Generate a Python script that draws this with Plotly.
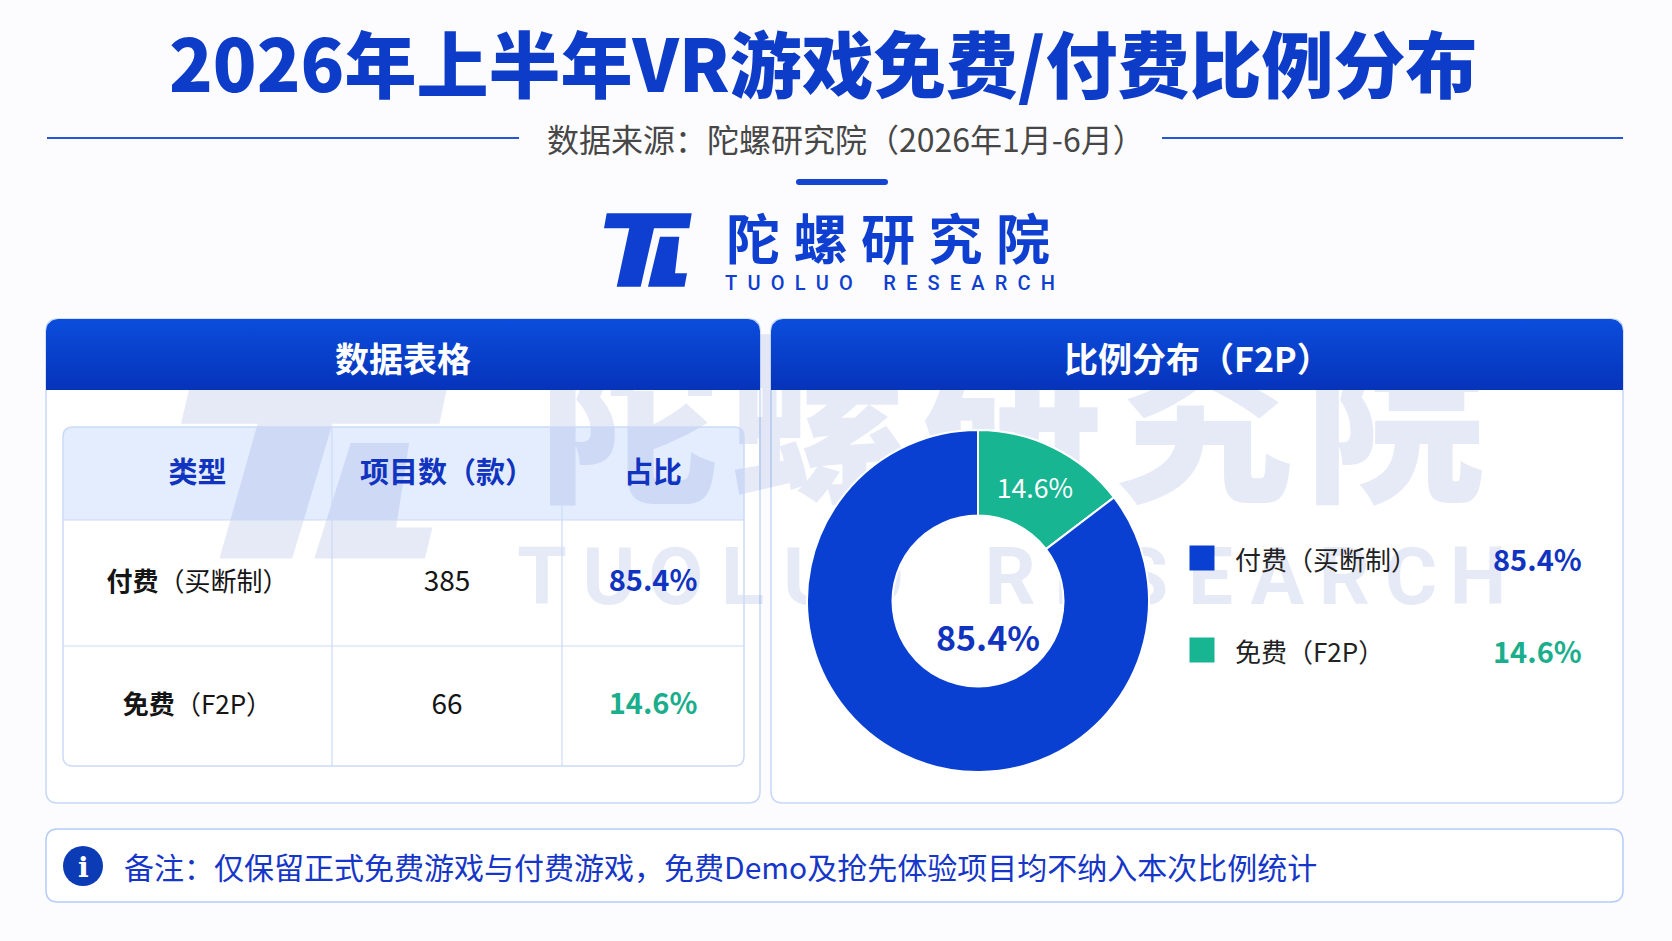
import math
import plotly.graph_objects as go

W, H = 1672, 941
FONT = "Noto Sans CJK SC"

# data
TITLE = "2026年上半年VR游戏免费/付费比例分布"
SOURCE = "数据来源：陀螺研究院（2026年1月-6月）"
NOTE = "备注：仅保留正式免费游戏与付费游戏，免费Demo及抢先体验项目均不纳入本次比例统计"
BRAND = "陀螺研究院"
BRAND_EN = "TUOLUO RESEARCH"
PANEL_TITLES = ["数据表格", "比例分布（F2P）"]
COLUMNS = ["类型", "项目数（款）", "占比"]
TYPES = ["付费", "免费"]
TYPE_DETAIL = ["（买断制）", "（F2P）"]
COUNTS = [385, 66]
SHARES = [85.4, 14.6]

# styles
TITLE_BLUE = "#0D3CC8"
DARK_BLUE = "#1034C0"
SLICE_COLORS = ["#0940D2", "#17B592"]
TEXT_COLORS = ["#1034C0", "#1AAE8C"]
BORDER = "#C6D7F7"
GRID = "#CCDAF6"
WATERMARK = "rgba(30,65,175,0.11)"
LOGO_BLUE = "#0E3FD0"
BG = "#FCFCFE"

# layout (pixels)
LEFT_PANEL = (46, 319, 760, 803)
RIGHT_PANEL = (771, 319, 1623, 803)
HEAD_H = 71
TABLE_X, TABLE_Y = 63, 427
COL_W = [269, 230, 182]
HEADER_H = 93
ROW_H = [126, 120]
CX, CY, R = 978, 601, 171
LEG_X, LEG_Y, LEG_DY = 1202, 558, 92
NOTE_BOX = (46, 829, 1623, 902)

shapes = []
annotations = []


def rounded_path(x0, y0, x1, y1, r, top_only=False):
    rb = 0 if top_only else r
    return (f"M{x0 + r},{y0} L{x1 - r},{y0} Q{x1},{y0} {x1},{y0 + r} "
            f"L{x1},{y1 - rb} Q{x1},{y1} {x1 - rb},{y1} L{x0 + rb},{y1} "
            f"Q{x0},{y1} {x0},{y1 - rb} L{x0},{y0 + r} Q{x0},{y0} {x0 + r},{y0} Z")


def add_text(x, y, text, size, color, weight=400, xanchor="center", family=FONT):
    annotations.append(dict(x=x, y=y, xref="x", yref="y", text=text, showarrow=False,
                            xanchor=xanchor, yanchor="middle",
                            font=dict(family=family, size=size, color=color, weight=weight)))


def label_shape(x, y, text, size, color, weight, layer, family=FONT):
    # text carried by an invisible shape, so it can sit under the donut
    shapes.append(dict(type="rect", xref="x", yref="y", x0=x - 1, x1=x + 1, y0=y - 1, y1=y + 1,
                       line=dict(width=0), fillcolor="rgba(0,0,0,0)", layer=layer,
                       label=dict(text=text, textposition="middle center",
                                  font=dict(family=family, size=size, color=color, weight=weight))))


def watermark_row(text, x_first, x_last, y, size, weight, family=FONT):
    step = (x_last - x_first) / (len(text) - 1)
    for k, ch in enumerate(text):
        if ch != " ":
            label_shape(x_first + k * step, y, ch, size, WATERMARK, weight, "below", family)


# TL mark outline, in logo pixels
TL_T = [(606.7, 213.3), (691.7, 213.3), (689.3, 228.3), (654, 228.3), (640.7, 286.7),
        (616.7, 286.7), (629.3, 228.3), (604, 228.3)]
TL_L = [(660, 236.7), (679.3, 236.7), (675, 273.3), (687, 273.3), (684.5, 286.7), (648, 286.7)]


def tl_paths(sx, sy, ox, oy, color, layer):
    for pts in (TL_T, TL_L):
        d = "M" + " L".join(f"{ox + (px - 604) * sx},{oy + (py - 213.3) * sy}" for px, py in pts) + " Z"
        shapes.append(dict(type="path", xref="x", yref="y", path=d, fillcolor=color,
                           line=dict(width=0), layer=layer))


# panel bodies
for x0, y0, x1, y1 in (LEFT_PANEL, RIGHT_PANEL):
    shapes.append(dict(type="path", xref="x", yref="y", path=rounded_path(x0, y0, x1, y1, 12),
                       fillcolor="white", line=dict(color=BORDER, width=1.5), layer="below"))

# table header fill
tx1 = TABLE_X + sum(COL_W)
ty1 = TABLE_Y + HEADER_H + sum(ROW_H)
shapes.append(dict(type="path", xref="x", yref="y",
                   path=rounded_path(TABLE_X, TABLE_Y, tx1, TABLE_Y + HEADER_H, 10, top_only=True),
                   fillcolor="#E4EDFE", line=dict(width=0), layer="below"))

# watermark
tl_paths(3.03, 2.31, 181, 389, WATERMARK, "below")
watermark_row(BRAND, 629, 1395, 438, 180, 900)
watermark_row(BRAND_EN, 542, 1478, 571, 80, 700, family="Roboto")

# table grid
shapes.append(dict(type="path", xref="x", yref="y", path=rounded_path(TABLE_X, TABLE_Y, tx1, ty1, 10),
                   fillcolor="rgba(0,0,0,0)", line=dict(color=GRID, width=1.5), layer="below"))
y = TABLE_Y + HEADER_H
for h in [0] + ROW_H[:-1]:
    y += h
    shapes.append(dict(type="line", xref="x", yref="y", x0=TABLE_X, x1=tx1, y0=y, y1=y,
                       line=dict(color=GRID, width=1.2), layer="below"))
x = TABLE_X
for w in COL_W[:-1]:
    x += w
    shapes.append(dict(type="line", xref="x", yref="y", x0=x, x1=x, y0=TABLE_Y, y1=ty1,
                       line=dict(color=GRID, width=1.2), layer="below"))

fig = go.Figure()

# panel headers with a vertical gradient
for (x0, y0, x1, y1), title in zip((LEFT_PANEL, RIGHT_PANEL), PANEL_TITLES):
    r = 12
    hx, hy = [], []
    for k in range(9):
        t = k / 8 * math.pi / 2
        hx.append(x0 + r - r * math.cos(t))
        hy.append(y0 + r - r * math.sin(t))
    for k in range(9):
        t = math.pi / 2 - k / 8 * math.pi / 2
        hx.append(x1 - r + r * math.cos(t))
        hy.append(y0 + r - r * math.sin(t))
    hx += [x1, x0]
    hy += [y0 + HEAD_H, y0 + HEAD_H]
    fig.add_trace(go.Scatter(x=hx, y=hy, mode="lines", fill="toself", line=dict(width=0),
                             fillgradient=dict(type="vertical", start=y0, stop=y0 + HEAD_H,
                                               colorscale=[[0, "#0B4DDC"], [1, "#0633BA"]]),
                             hoverinfo="skip", showlegend=False))
    add_text((x0 + x1) / 2, y0 + 38, title, 34, "white", 700)

# table cells
col_centers = []
x = TABLE_X
for w in COL_W:
    col_centers.append(x + w / 2)
    x += w
cell_x, cell_y, cell_text, cell_color, cell_size = [], [], [], [], []
for j, name in enumerate(COLUMNS):
    cell_x.append(col_centers[j])
    cell_y.append(TABLE_Y + HEADER_H / 2 + 2)
    cell_text.append(f"<b>{name}</b>")
    cell_color.append(DARK_BLUE)
    cell_size.append(29)
y = TABLE_Y + HEADER_H
for i in range(len(TYPES)):
    yc = y + ROW_H[i] / 2 + 1
    y += ROW_H[i]
    row = [f"<b>{TYPES[i]}</b>{TYPE_DETAIL[i]}", f"{COUNTS[i]}", f"<b>{SHARES[i]:.1f}%</b>"]
    colors = ["#151515", "#151515", TEXT_COLORS[i]]
    sizes = [26, 28, 29]
    for j in range(3):
        cell_x.append(col_centers[j])
        cell_y.append(yc)
        cell_text.append(row[j])
        cell_color.append(colors[j])
        cell_size.append(sizes[j])
fig.add_trace(go.Scatter(x=cell_x, y=cell_y, text=cell_text, mode="text", textposition="middle center",
                         textfont=dict(family=FONT, size=cell_size, color=cell_color),
                         hoverinfo="skip", showlegend=False))

# donut: free slice runs clockwise from 12 o'clock, paid fills the rest
labels = [t + d for t, d in zip(TYPES, TYPE_DETAIL)]
fig.add_trace(go.Pie(labels=labels[::-1], values=COUNTS[::-1], sort=False, direction="clockwise",
                     rotation=0, hole=0.5,
                     marker=dict(colors=SLICE_COLORS[::-1], line=dict(color="white", width=2)),
                     texttemplate="%{percent:.1%}", textposition=["inside", "none"],
                     insidetextorientation="horizontal",
                     insidetextfont=dict(family=FONT, size=28, color="white"),
                     domain=dict(x=[(CX - R) / W, (CX + R) / W], y=[1 - (CY + R) / H, 1 - (CY - R) / H]),
                     showlegend=False, hoverinfo="label+percent"))
add_text(CX + 10, CY + 35, f"{SHARES[0]:.1f}%", 34, DARK_BLUE, 700)

# legend
fig.add_trace(go.Scatter(x=[LEG_X] * len(TYPES), y=[LEG_Y + k * LEG_DY for k in range(len(TYPES))],
                         mode="markers", marker=dict(symbol="square", size=25, color=SLICE_COLORS),
                         hoverinfo="skip", showlegend=False))
for k in range(len(TYPES)):
    add_text(LEG_X + 31, LEG_Y + k * LEG_DY, labels[k], 26, "#222222", 400, "left")
    add_text(1584, LEG_Y + k * LEG_DY, f"{SHARES[k]:.1f}%", 29, TEXT_COLORS[k], 700, "right")

# header block
add_text(823, 60, TITLE, 72, TITLE_BLUE, 900)
add_text(846, 138, SOURCE, 32, "#474747", 400)
for x0, x1 in ((47, 519), (1162, 1623)):
    shapes.append(dict(type="line", xref="x", yref="y", x0=x0, x1=x1, y0=138, y1=138,
                       line=dict(color="#2456D6", width=2)))
shapes.append(dict(type="path", xref="x", yref="y", path=rounded_path(796, 179, 888, 185, 3),
                   fillcolor="#1446D2", line=dict(width=0)))

# logo
tl_paths(1, 1, 604, 213.3, LOGO_BLUE, "above")
label_shape(888, 245, "\u2005".join(BRAND), 54, LOGO_BLUE, 700, "above")
add_text(890, 283, "\u2002".join(BRAND_EN).replace("\u2002 \u2002", "\u2002\u2002\u2002"),
         20, LOGO_BLUE, 500, family="Roboto")

# note box
nx0, ny0, nx1, ny1 = NOTE_BOX
shapes.append(dict(type="path", xref="x", yref="y", path=rounded_path(nx0, ny0, nx1, ny1, 12),
                   fillcolor="white", line=dict(color="#B3CBF8", width=1.5), layer="below"))
shapes.append(dict(type="circle", xref="x", yref="y", x0=63, x1=103, y0=846, y1=886,
                   fillcolor="#0C3BB6", line=dict(width=0)))
add_text(83, 867, "<b>i</b>", 28, "white", 700, family="DejaVu Serif")
add_text(122, 866, NOTE, 30, "#1536C8", 400, "left")

fig.update_layout(
    width=W, height=H, margin=dict(l=0, r=0, t=0, b=0),
    paper_bgcolor=BG, plot_bgcolor=BG,
    xaxis=dict(range=[0, W], visible=False, fixedrange=True),
    yaxis=dict(range=[H, 0], visible=False, fixedrange=True),
    shapes=shapes, annotations=annotations,
)
fig.write_html("out.html", config={"displayModeBar": False},
               post_script="document.body.style.margin='0px';")
